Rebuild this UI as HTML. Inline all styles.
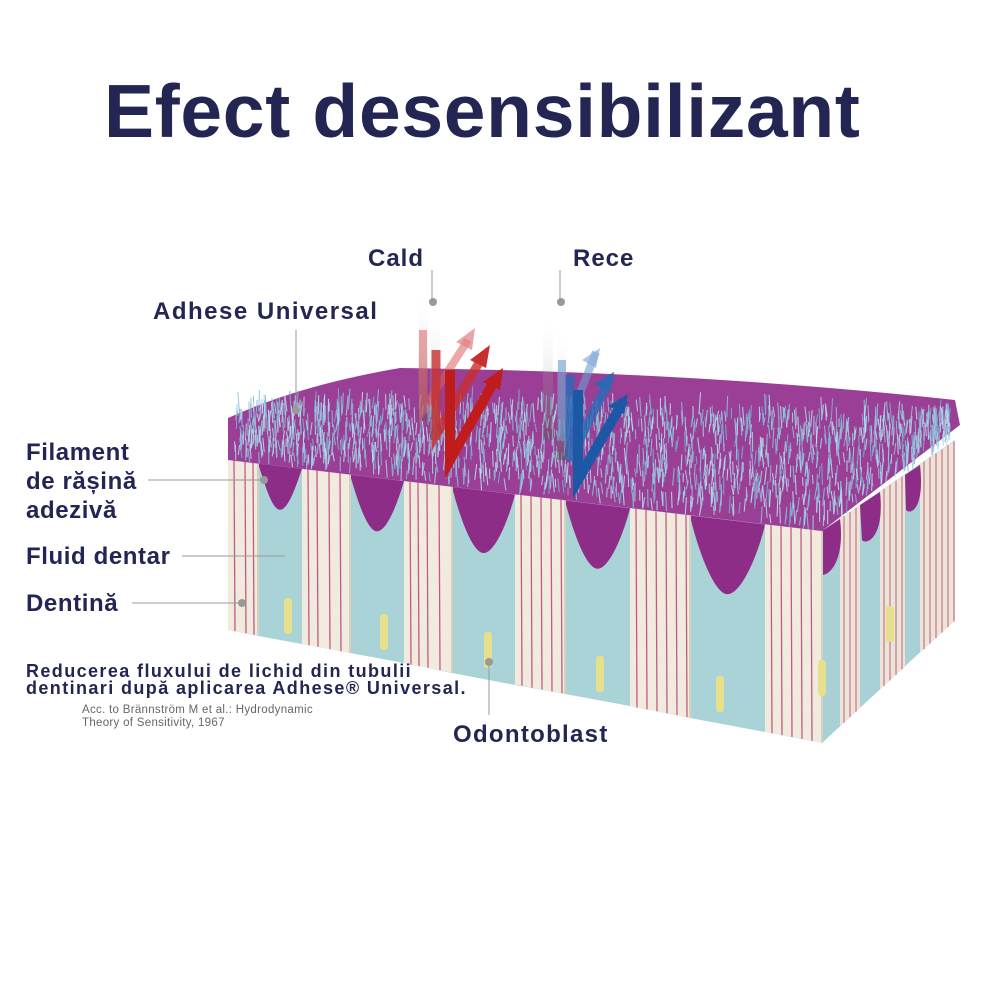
<!DOCTYPE html>
<html><head><meta charset="utf-8"><style>
html,body{margin:0;padding:0;background:#fff;}
#c{position:relative;width:1001px;height:1001px;overflow:hidden;font-family:"Liberation Sans",sans-serif;color:#232653;}
.t{position:absolute;font-weight:bold;white-space:nowrap;}
.l{font-size:24px;letter-spacing:1px;}
</style></head><body><div id="c">
<svg id="s" width="1001" height="1001" style="position:absolute;left:0;top:0">
<defs>
<linearGradient id="gb" x1="0" y1="0" x2="0" y2="1"><stop offset="0" stop-color="#fff" stop-opacity="0"/><stop offset="1" stop-color="#555" stop-opacity=".8"/></linearGradient>
</defs>
<polygon points="822,531 955,440 955,620 822,743" fill="#a9d0d4"/>
<g id="rf"></g>
<polygon points="228,460 822,531 822,743 765,732 690,718 630,706 565,694 515,685 452,673 404,663 350,653 302,644 258,636 228,630" fill="#a9d3d6"/>
<g id="ff"></g>
<path d="M228,418 Q300,385 400,368 Q700,372 955,400 L960,425 L822,531 L228,460 Z" fill="#9a3f95"/>
<g id="br"></g>
<line x1="296" y1="330" x2="296" y2="410" stroke="#999" stroke-width="1"/><circle cx="296" cy="410" r="4" fill="#999"/>
<line x1="148" y1="480" x2="262" y2="480" stroke="#999"/><circle cx="264" cy="480" r="4" fill="#999"/>
<line x1="182" y1="556" x2="285" y2="556" stroke="#999"/>
<line x1="132" y1="603" x2="240" y2="603" stroke="#999"/><circle cx="242" cy="603" r="4" fill="#999"/>
<line x1="489" y1="662" x2="489" y2="715" stroke="#999"/><circle cx="489" cy="662" r="4" fill="#999"/>
<line x1="432" y1="270" x2="432" y2="300" stroke="#999"/><circle cx="433" cy="302" r="4" fill="#999"/>
<line x1="560" y1="270" x2="560" y2="300" stroke="#999"/><circle cx="561" cy="302" r="4" fill="#999"/>
<rect x="418" y="290" width="10" height="130" fill="url(#gb)" opacity=".5"/>
<rect x="430" y="310" width="10" height="130" fill="url(#gb)" opacity=".7"/>
<g fill="none">
<polyline points="423,330 423,410 468,340" stroke="#d86060" stroke-width="8" opacity=".55"/>
<polyline points="436,350 436,435 483,356" stroke="#c83030" stroke-width="9" opacity=".8"/>
<polyline points="450,370 450,460 496,378" stroke="#c01c1c" stroke-width="10"/>
</g>
<polygon points="475,328 456,342 472,350" fill="#e08080" opacity=".7"/>
<polygon points="490,345 470,360 486,368" fill="#c83030"/>
<polygon points="503,368 483,382 500,390" fill="#c01c1c"/>
<rect x="543" y="310" width="10" height="130" fill="url(#gb)" opacity=".5"/>
<rect x="557" y="330" width="10" height="130" fill="url(#gb)" opacity=".7"/>
<g fill="none">
<polyline points="562,360 562,440 596,352" stroke="#6f9cd0" stroke-width="8" opacity=".6"/>
<polyline points="570,375 570,460 610,378" stroke="#2e68b4" stroke-width="9" opacity=".85"/>
<polyline points="578,390 578,480 624,400" stroke="#1d58a6" stroke-width="10"/>
</g>
<polygon points="600,348 582,360 596,368" fill="#8ab0dc" opacity=".7"/>
<polygon points="614,372 594,384 610,392" fill="#2e68b4"/>
<polygon points="628,394 608,406 624,414" fill="#1d58a6"/>
</svg>
<div class="t" style="left:104px;top:68px;font-size:75px;letter-spacing:0.7px;">Efect desensibilizant</div>
<div class="t l" style="left:368px;top:245px;">Cald</div>
<div class="t l" style="left:573px;top:245px;">Rece</div>
<div class="t l" style="left:153px;top:298px;letter-spacing:1.5px;">Adhese Universal</div>
<div class="t l" style="left:26px;top:438px;line-height:29px;letter-spacing:0.6px;">Filament<br>de rășină<br>adezivă</div>
<div class="t l" style="left:26px;top:543px;letter-spacing:0.6px;">Fluid dentar</div>
<div class="t l" style="left:26px;top:590px;letter-spacing:0.6px;">Dentină</div>
<div class="t" style="left:26px;top:663px;font-size:18px;letter-spacing:1.4px;line-height:17px;">Reducerea fluxului de lichid din tubulii<br>dentinari după aplicarea Adhese® Universal.</div>
<div class="t" style="left:82px;top:704px;font-size:11.5px;line-height:13px;font-weight:normal;color:#666;letter-spacing:0.3px;">Acc. to Brännström M et al.: Hydrodynamic<br>Theory of Sensitivity, 1967</div>
<div class="t l" style="left:453px;top:721px;letter-spacing:1.3px;">Odontoblast</div>
<script>
(function(){
var NS="http://www.w3.org/2000/svg";
function el(p,t,a){var e=document.createElementNS(NS,t);for(var k in a)e.setAttribute(k,a[k]);document.getElementById(p).appendChild(e);return e;}
function ft(x){return 460+0.12*(x-228);} function fb(x){return 630+0.19*(x-228);}
var pil=[[228,258],[302,350],[404,452],[515,565],[630,690],[765,822]];
for(var i=0;i<pil.length-1;i++){var a=pil[i][1],b=pil[i+1][0],ya=ft(a),yb=ft(b),d=(b-a)*1.05;
el("ff","path",{d:"M"+a+","+ya+" C"+(a+5)+","+(ya+d*0.3)+" "+(a+(b-a)*0.3)+","+(ya+d)+" "+((a+b)/2)+","+(ya+d)+" C"+(a+(b-a)*0.7)+","+(ya+d)+" "+(b-5)+","+(yb+d*0.3)+" "+b+","+yb+" Z",fill:"#8e2d88"});}
pil.forEach(function(p){var a=p[0],b=p[1];
el("ff","polygon",{points:a+","+ft(a)+" "+b+","+ft(b)+" "+b+","+fb(b)+" "+a+","+fb(a),fill:"#f1ebdd"});
for(var x=a+6;x<b-2;x+=8+((x*7)%5)){el("ff","line",{x1:x,y1:ft(x),x2:x+1,y2:fb(x),stroke:"#c25a86","stroke-width":1.3});}
el("ff","line",{x1:b,y1:ft(b),x2:b,y2:fb(b),stroke:"#d8d0bf","stroke-width":2});});
function rt(x){return 531-(x-822)*0.68;}function rb(x){return 743-(x-822)*0.92;}
[[840,860],[880,905],[920,955]].forEach(function(p){var a=p[0],b=p[1];
el("rf","polygon",{points:a+","+rt(a)+" "+b+","+rt(b)+" "+b+","+rb(b)+" "+a+","+rb(a),fill:"#ece5d5"});
for(var x=a+4;x<b;x+=6){el("rf","line",{x1:x,y1:rt(x),x2:x,y2:rb(x),stroke:"#c25a86","stroke-width":1});}});
el("rf","path",{d:"M822,531 L840,519 C845,560 830,575 822,575 Z",fill:"#8e2d88"});
el("rf","path",{d:"M860,505 L880,492 C885,540 865,545 862,540 Z",fill:"#8e2d88"});
el("rf","path",{d:"M905,475 L920,465 C925,510 910,515 906,510 Z",fill:"#8e2d88"});
[[288,598],[384,614],[488,632],[600,656],[720,676],[822,660],[890,606]].forEach(function(o){
el("ff","rect",{x:o[0]-4,y:o[1],width:8,height:36,rx:3,fill:"#e6df8c"});});
var seed=3;function r(){seed=(seed*9301+49297)%233280;return seed/233280;}
var cols=["#8fc0dc","#a9d4e6","#7eaed0","#b9dfec"];
for(var i=0;i<1700;i++){var u=r(),v=r();var x=235+u*715;var y0=405+Math.abs(x-450)*0.03;var yf=ft(x);if(x>822)yf=rt(x);
var y=y0+v*(yf-y0);var h=8+r()*14;var c=cols[Math.floor(r()*4)];
el("br","line",{x1:x,y1:y,x2:x+(r()-0.5)*4,y2:y-h,stroke:c,"stroke-width":1.1,opacity:.85});}
})();
</script>
</div></body></html>
